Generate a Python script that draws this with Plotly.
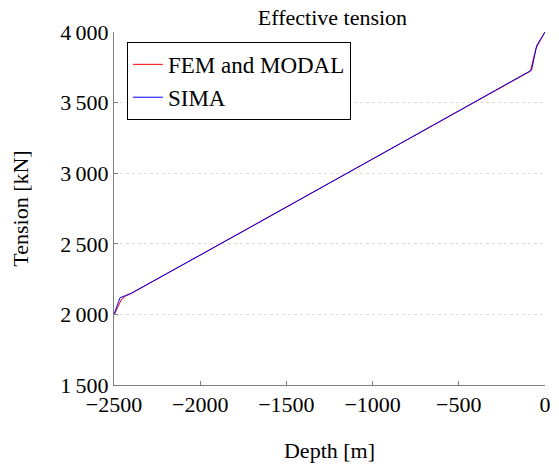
import plotly.graph_objects as go

# Effective tension along the riser, depth below surface [m] vs tension [kN]
fem_depth = [-2500, -2455, -2430, -2400, -1722, -864, -85, -52, 0]
fem_tension = [1995, 2110, 2132, 2148, 2610, 3195, 3722, 3885, 4000]

sima_depth = [-2500, -2465, -2432, -2400, -1722, -864, -78, -48, 0]
sima_tension = [2000, 2118, 2134, 2150, 2608, 3193, 3730, 3905, 4000]

x_ticks = [-2500, -2000, -1500, -1000, -500, 0]
x_tick_text = ["\u22122500", "\u22122000", "\u22121500", "\u22121000", "\u2212500", "0"]
y_ticks = [1500, 2000, 2500, 3000, 3500, 4000]
y_tick_text = ["1\u2009500", "2\u2009000", "2\u2009500", "3\u2009000", "3\u2009500", "4\u2009000"]

serif = "Liberation Serif, Times New Roman, serif"

fig = go.Figure()
fig.add_trace(go.Scatter(x=fem_depth, y=fem_tension, mode="lines",
                         name="FEM and MODAL", line=dict(color="#ff0000", width=1)))
fig.add_trace(go.Scatter(x=sima_depth, y=sima_tension, mode="lines",
                         name="SIMA", line=dict(color="#0000ff", width=1)))

fig.update_layout(
    width=559, height=467,
    margin=dict(l=114, r=8, t=32, b=82),
    paper_bgcolor="white", plot_bgcolor="white",
    font=dict(family=serif, size=21, color="black"),
    title=dict(text="Effective tension", x=(114 + 437 / 2) / 559, xanchor="center",
               y=1 - 17 / 467, yanchor="middle",
               font=dict(family=serif, size=22)),
    legend=dict(x=0.03, y=0.972, xanchor="left", yanchor="top",
                bordercolor="black", borderwidth=1, bgcolor="white",
                font=dict(family=serif, size=23), tracegroupgap=0, itemwidth=30),
    showlegend=True,
)
fig.update_xaxes(
    range=[-2500, 0], tickvals=x_ticks, ticktext=x_tick_text,
    showline=True, linecolor="#7f7f7f", linewidth=1, mirror=False,
    showgrid=False, zeroline=False, ticks="inside", ticklen=4, tickcolor="#7f7f7f",
    title=dict(text="Depth [m]", standoff=26, font=dict(family=serif, size=22)),
    tickfont=dict(family=serif, size=22),
)
fig.update_yaxes(
    range=[1500, 4000], tickvals=y_ticks, ticktext=y_tick_text,
    showline=True, linecolor="#7f7f7f", linewidth=1, mirror=False,
    showgrid=True, gridcolor="#dadada", griddash="dot", gridwidth=1,
    zeroline=False, ticks="inside", ticklen=4, tickcolor="#7f7f7f",
    title=dict(text="Tension [kN]", standoff=25, font=dict(family=serif, size=22)),
    tickfont=dict(family=serif, size=22),
)

fig.write_html("out.html")
